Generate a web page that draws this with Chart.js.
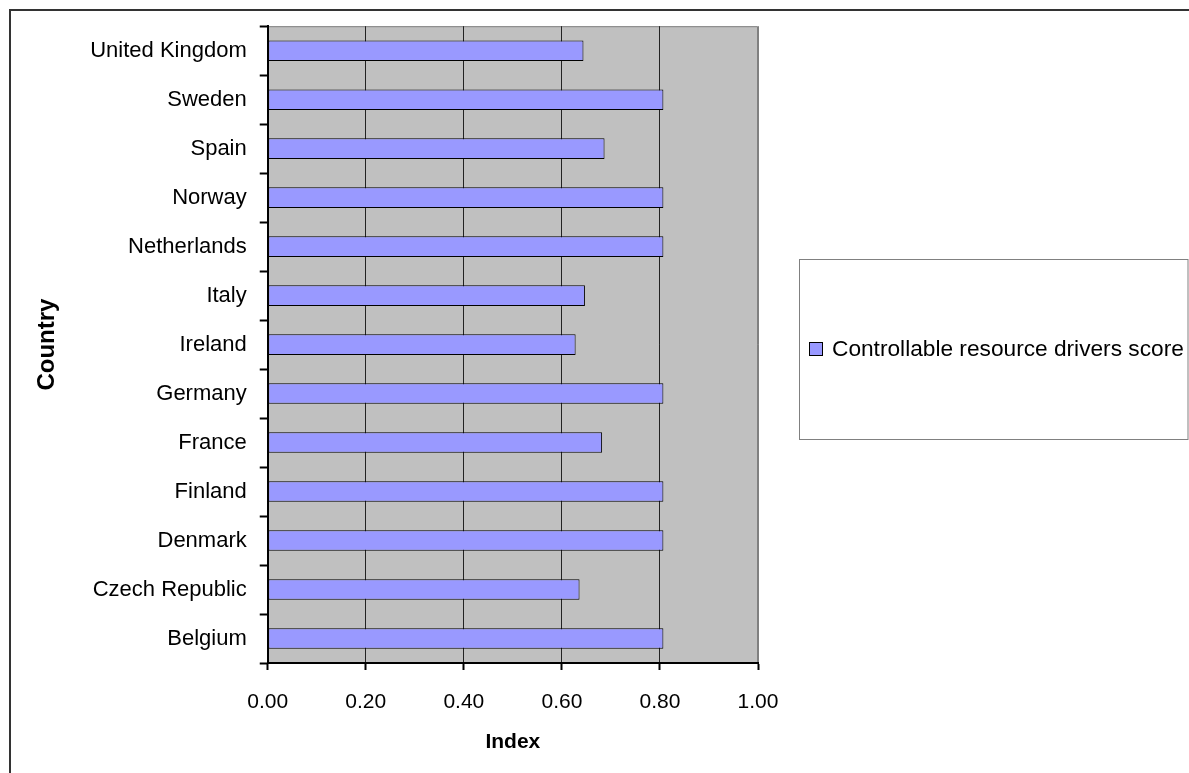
<!DOCTYPE html>
<html>
<head>
<meta charset="utf-8">
<title>Controllable resource drivers score</title>
<script src="https://cdn.jsdelivr.net/npm/chart.js"></script>
<style>
  body { margin: 0; background: #fff; }
  #chart { display: block; }
</style>
</head>
<body>
<canvas id="chart" width="1189" height="773"></canvas>
<script>
// values (Excel bar chart, bottom to top)
const countries = ['Belgium', 'Czech Republic', 'Denmark', 'Finland', 'France', 'Germany',
    'Ireland', 'Italy', 'Netherlands', 'Norway', 'Spain', 'Sweden', 'United Kingdom']
const scores = [0.807, 0.636, 0.807, 0.807, 0.682, 0.807, 0.628, 0.647, 0.807, 0.807, 0.687, 0.807, 0.644]
const seriesName = 'Controllable resource drivers score'
const indexTicks = [0, 0.2, 0.4, 0.6, 0.8, 1.0]

const fontFamily = '"Liberation Sans", Arial, sans-serif'

// grey plot area + outer frame, like the old excel look
const excelLook = {
    id: 'excelLook',
    beforeDraw(chart) {
        const ctx = chart.ctx
        const a = chart.chartArea
        ctx.save()
        ctx.fillStyle = '#fff'
        ctx.fillRect(0, 0, chart.width, chart.height)
        // outer frame (only top and left edges are visible)
        ctx.strokeStyle = '#333'
        ctx.lineWidth = 2
        ctx.beginPath()
        ctx.moveTo(10, chart.height)
        ctx.lineTo(10, 10)
        ctx.lineTo(chart.width, 10)
        ctx.stroke()
        // plot area
        ctx.fillStyle = '#C0C0C0'
        ctx.fillRect(a.left, a.top, a.right - a.left, a.bottom - a.top)
        ctx.strokeStyle = '#808080'
        ctx.lineWidth = 1
        ctx.beginPath()
        ctx.moveTo(a.left, a.top + 0.5)
        ctx.lineTo(a.right - 0.5, a.top + 0.5)
        ctx.lineTo(a.right - 0.5, a.bottom)
        ctx.stroke()
        ctx.restore()
    }
}

// the built in legend can't get wide enough on the right, so draw it here
const boxedLegend = {
    id: 'boxedLegend',
    afterDraw(chart) {
        const ctx = chart.ctx
        const a = chart.chartArea
        const ds = chart.data.datasets[0]
        const left = Math.round(a.right) + 41
        const top = 259
        const h = 180
        const midY = top + h / 2
        ctx.save()
        ctx.strokeStyle = '#808080'
        ctx.lineWidth = 1
        ctx.strokeRect(left + 0.5, top + 0.5, chart.width - left - 1.5, h)
        // swatch
        ctx.fillStyle = ds.backgroundColor
        ctx.fillRect(left + 10, midY - 7, 14, 14)
        ctx.strokeStyle = ds.borderColor
        ctx.strokeRect(left + 10.5, midY - 6.5, 13, 13)
        // label
        ctx.fillStyle = '#000'
        ctx.font = '22.7px ' + fontFamily
        ctx.textBaseline = 'middle'
        ctx.textAlign = 'left'
        ctx.fillText(ds.label, left + 33, midY + 1)
        ctx.restore()
    }
}

new Chart(document.getElementById('chart'), {
    type: 'bar',
    data: {
        labels: countries,
        datasets: [{
            label: seriesName,
            data: scores,
            backgroundColor: '#9999FF',
            borderColor: '#000',
            borderWidth: 1,
            borderSkipped: false,
            barPercentage: 0.42,
            categoryPercentage: 1.0
        }]
    },
    options: {
        indexAxis: 'y',
        responsive: false,
        animation: false,
        layout: {
            padding: { top: 23, left: 10, right: 431, bottom: 0 }
        },
        plugins: {
            tooltip: { enabled: false },
            legend: { display: false }
        },
        scales: {
            x: {
                min: 0,
                max: 1,
                afterBuildTicks: scale => {
                    scale.ticks = indexTicks.map(v => ({ value: v }))
                },
                // keep the axis band the same height as in the excel chart
                afterFit: scale => {
                    scale.height = 110
                },
                ticks: {
                    color: '#000',
                    padding: 20,
                    font: { family: fontFamily, size: 21 },
                    callback: v => Number(v).toFixed(2)
                },
                grid: {
                    color: ctx => ctx.index === indexTicks.length - 1 ? '#808080' : '#222',
                    lineWidth: 1,
                    tickColor: '#000',
                    tickWidth: 2,
                    tickLength: 7
                },
                border: { color: '#000', width: 2 },
                title: {
                    display: true,
                    text: 'Index',
                    color: '#000',
                    font: { family: fontFamily, size: 21, weight: 'bold' },
                    padding: { top: 0, bottom: 18 }
                }
            },
            y: {
                reverse: true,
                ticks: {
                    color: '#000',
                    padding: 13,
                    font: { family: fontFamily, size: 22 }
                },
                grid: {
                    offset: true,
                    drawOnChartArea: false,
                    tickColor: '#000',
                    tickWidth: 2,
                    tickLength: 8
                },
                border: { color: '#000', width: 2 },
                title: {
                    display: true,
                    text: 'Country',
                    color: '#000',
                    font: { family: fontFamily, size: 24, weight: 'bold' },
                    padding: { top: 22.6, bottom: 15.8 }
                }
            }
        }
    },
    plugins: [excelLook, boxedLegend]
})
</script>
</body>
</html>
